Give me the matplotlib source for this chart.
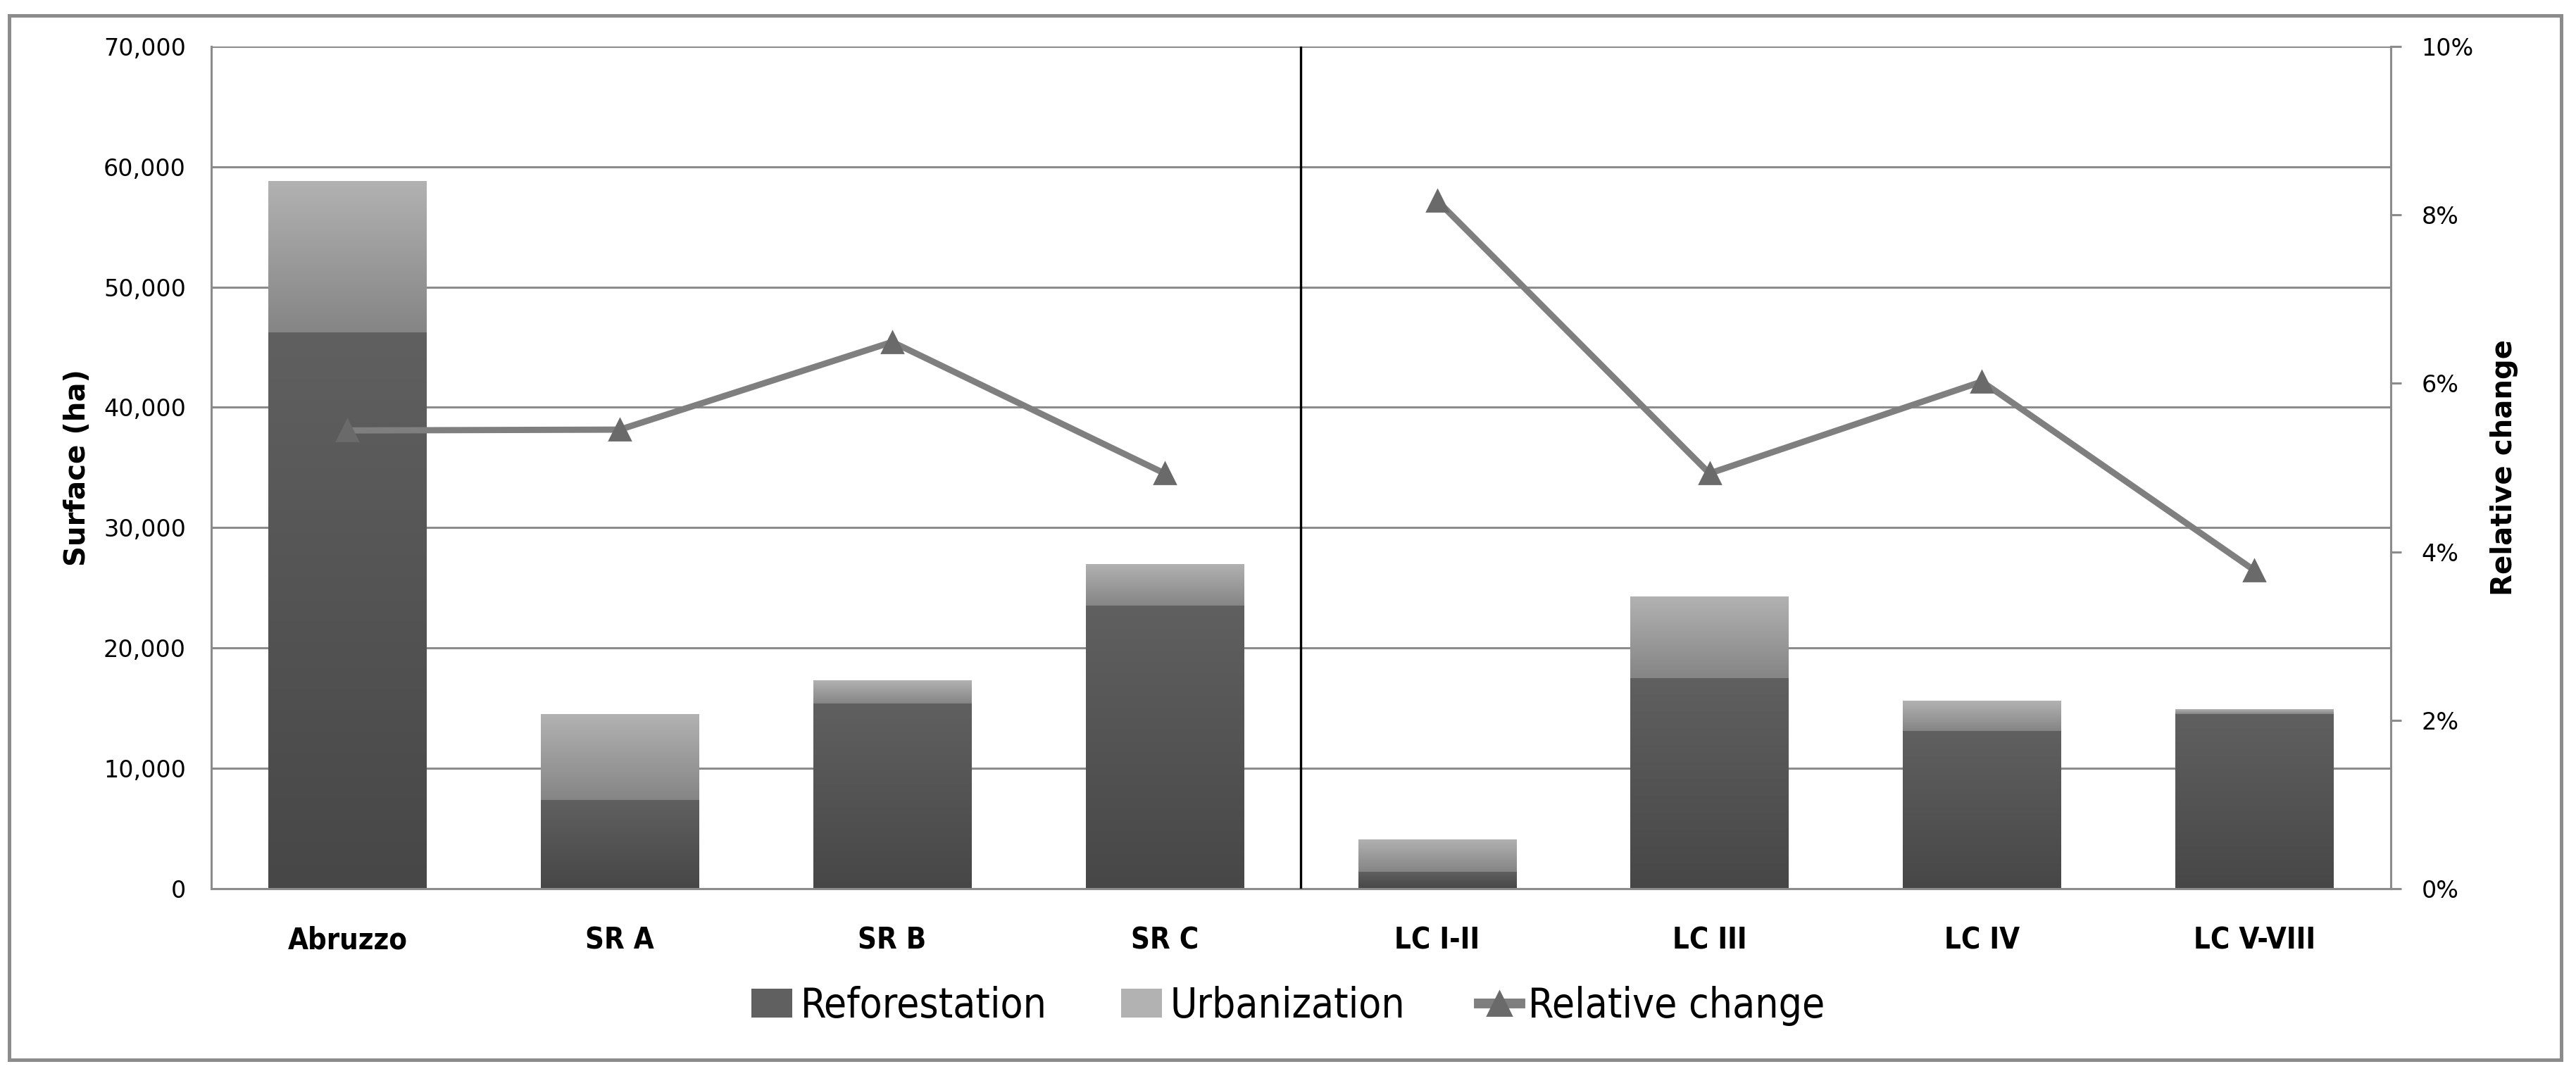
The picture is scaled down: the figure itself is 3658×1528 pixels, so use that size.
import matplotlib
matplotlib.use("Agg")
import matplotlib.pyplot as plt
import numpy as np

from matplotlib.colors import LinearSegmentedColormap
from matplotlib.lines import Line2D
from matplotlib.patches import Patch, Rectangle

regions = ["Abruzzo", "SR A", "SR B", "SR C", "LC I-II", "LC III", "LC IV", "LC V-VIII"]
reforestation = [46200, 7400, 15400, 23500, 1400, 17500, 13100, 14500]
urbanization = [12600, 7100, 1900, 3500, 2700, 6800, 2500, 400]
relative_change = [0.0544, 0.0545, 0.0649, 0.0493, 0.0817, 0.0493, 0.0602, 0.0378]
n_first_group = 4  # Abruzzo + sub-regions, then land capability classes

y_ticks = [0, 10000, 20000, 30000, 40000, 50000, 60000, 70000]
pct_ticks = [0, 0.02, 0.04, 0.06, 0.08, 0.10]

GRID = "#8c8c8c"
DARK_TOP, DARK_BOT = "#606060", "#474747"
LIGHT_TOP, LIGHT_BOT = "#b2b2b2", "#858585"
LINE_COL = "#7f7f7f"
MARK_COL = "#6a6a6a"

narrow_font = ["DejaVu Sans Condensed", "Liberation Sans Narrow", "DejaVu Sans"]
wide_font = ["DejaVu Sans"]

fig = plt.figure(figsize=(18.29, 7.64), dpi=200)
ax = fig.add_axes([0.082, 0.174, 0.846, 0.783])

# outer frame around the whole chart
fig.patches.append(Rectangle((0.0036, 0.015), 0.9907, 0.9705, transform=fig.transFigure,
                             fill=False, edgecolor="#8c8c8c", linewidth=1.8, zorder=0))

x = np.arange(len(regions))
width = 0.58

bars_r = ax.bar(x, reforestation, width, color=DARK_BOT, zorder=2)
bars_u = ax.bar(x, urbanization, width, bottom=reforestation, color=LIGHT_BOT, zorder=2)

# vertical gradient inside every bar (Excel style fill)
grad = np.linspace(1, 0, 256).reshape(-1, 1)
def fill_gradient(bars, top, bot):
   cmap = LinearSegmentedColormap.from_list("g", [bot, top])
   for b in bars:
      x0, y0 = b.get_x(), b.get_y()
      w, h = b.get_width(), b.get_height()
      im = ax.imshow(grad, extent=[x0, x0 + w, y0, y0 + h], cmap=cmap, vmin=0, vmax=1,
                     aspect="auto", interpolation="bicubic", zorder=2.1)
      im.set_clip_path(b)

fill_gradient(bars_r, DARK_TOP, DARK_BOT)
fill_gradient(bars_u, LIGHT_TOP, LIGHT_BOT)

ax.set_xlim(-0.5, len(regions) - 0.5)
ax.set_ylim(0, 70000)
ax.set_yticks(y_ticks)
ax.set_yticklabels(["{:,}".format(v) for v in y_ticks], fontfamily=wide_font, fontsize=12)
ax.yaxis.grid(True, color=GRID, linewidth=1.1, zorder=0)
ax.set_axisbelow(True)
ax.tick_params(axis="y", length=0, pad=13)
ax.set_xticks(x)
ax.set_xticklabels(regions, fontfamily=narrow_font, fontstretch="condensed",
                   fontweight="bold", fontsize=15)
ax.tick_params(axis="x", length=0, pad=19)

for side in ["left", "bottom"]:
   ax.spines[side].set_color(GRID)
   ax.spines[side].set_linewidth(1.1)
ax.spines["top"].set_visible(False)
ax.spines["right"].set_visible(False)

ax.set_ylabel("Surface (ha)", fontfamily=wide_font, fontweight="bold", fontsize=14.5)
ax.yaxis.set_label_coords(-0.055, 0.5)

# separator between sub-regions and land capability classes
ax.axvline(3.5, color="black", linewidth=1.2, zorder=3)

ax2 = ax.twinx()
# the line is broken between the two groups
for sl in [slice(0, n_first_group), slice(n_first_group, None)]:
   ax2.plot(x[sl], relative_change[sl], color=LINE_COL, linewidth=3.2, marker="^", markersize=11,
            markerfacecolor=MARK_COL, markeredgecolor=MARK_COL, zorder=4)
ax2.set_ylim(0, 0.10)
ax2.set_yticks(pct_ticks)
ax2.set_yticklabels(["{:.0f}%".format(v * 100) for v in pct_ticks], fontfamily=wide_font, fontsize=12)
ax2.tick_params(axis="y", length=5.4, width=1.1, color=GRID, pad=10.5)
ax2.spines["right"].set_color(GRID)
ax2.spines["right"].set_linewidth(1.1)
for side in ["left", "top", "bottom"]:
   ax2.spines[side].set_visible(False)
ax2.set_ylabel("Relative change", fontfamily=wide_font, fontweight="bold", fontsize=14.5,
               rotation=90)
ax2.yaxis.set_label_coords(1.0456, 0.5)

handles = [Patch(facecolor=DARK_TOP, edgecolor="none"),
           Patch(facecolor=LIGHT_TOP, edgecolor="none"),
           Line2D([0], [0], color=LINE_COL, linewidth=5, marker="^", markersize=12,
                  markerfacecolor=MARK_COL, markeredgecolor=MARK_COL)]
fig.legend(handles, ["Reforestation", "Urbanization", "Relative change"],
           loc="center", bbox_to_anchor=(0.5, 0.065), ncol=3, frameon=False,
           prop={"family": narrow_font, "stretch": "condensed", "size": 21},
           handlelength=1.0, handletextpad=0.2, columnspacing=1.8)

plt.savefig("out.png", dpi=200)
plt.close()
